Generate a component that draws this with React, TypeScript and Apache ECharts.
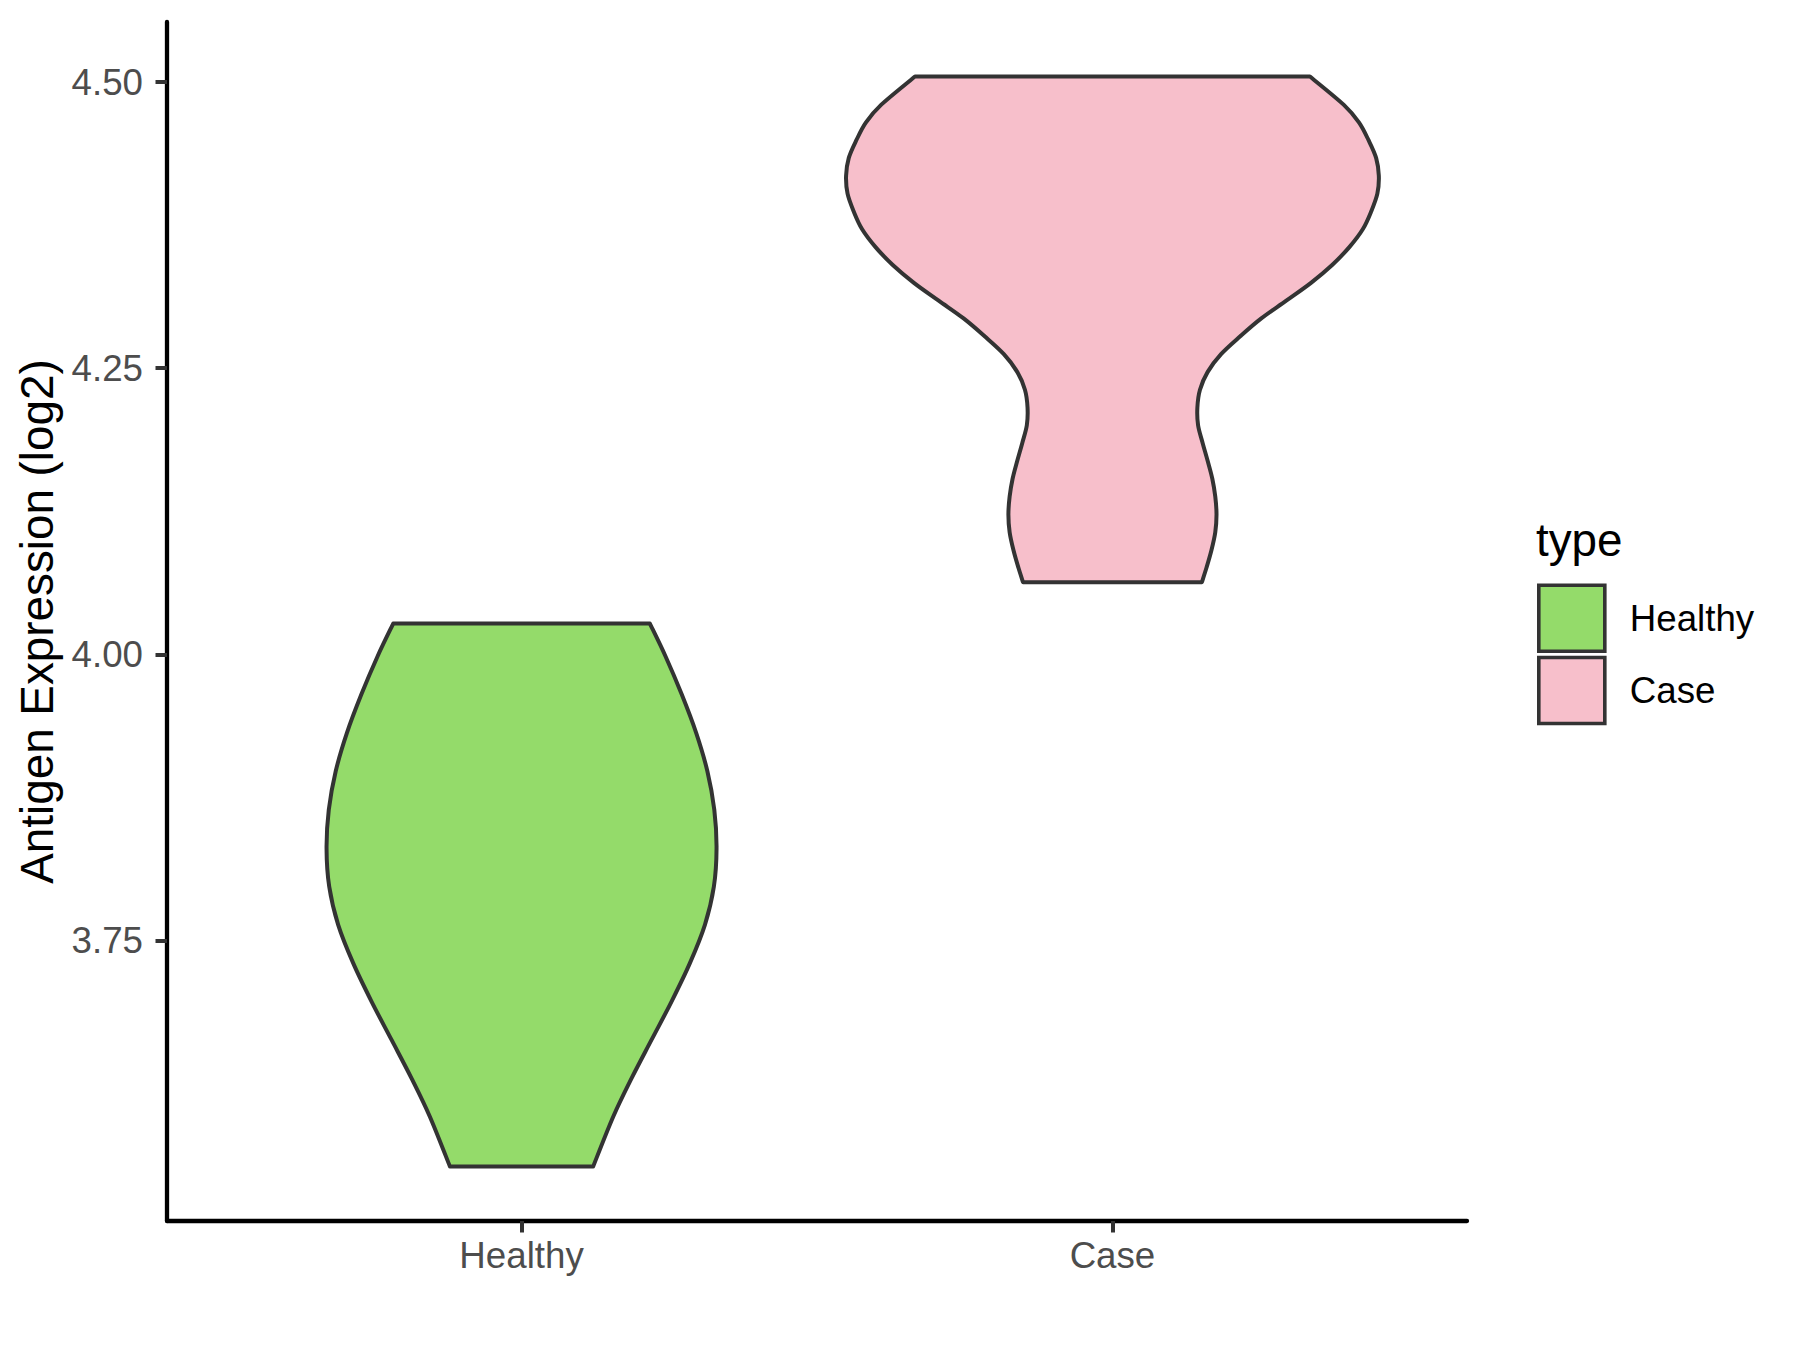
import React, { useEffect, useRef } from "react";
import * as echarts from "echarts";

// ---- Data ----
const categories = ["Healthy", "Case"];
const yTickValues = [3.75, 4.0, 4.25, 4.5];

// Healthy violin: value (log2) and half-width (in category units)
const healthyValues = [
  3.5524, 3.5959, 3.6294, 3.663, 3.6965, 3.7301, 3.7636, 3.7971, 3.8306,
  3.8642, 3.8978, 3.9313, 3.9648, 3.9983, 4.0268,
];
const healthyHalfWidth = [
  0.1212, 0.1551, 0.1861, 0.2199, 0.2538, 0.2849, 0.3103, 0.3255, 0.33,
  0.3262, 0.3145, 0.2955, 0.2712, 0.2436, 0.2172,
];

// Case violin
const caseValues = [
  4.063, 4.0756, 4.0911, 4.1067, 4.1222, 4.1378, 4.1534, 4.1689, 4.1845,
  4.2001, 4.2156, 4.2312, 4.2468, 4.2623, 4.2779, 4.2935, 4.309, 4.3246,
  4.3402, 4.3558, 4.3714, 4.3869, 4.4025, 4.4181, 4.4336, 4.4492, 4.4648,
  4.4803, 4.5049,
];
const caseHalfWidth = [
  0.1513, 0.1591, 0.1676, 0.174, 0.1761, 0.174, 0.169, 0.1612, 0.1527,
  0.1449, 0.1437, 0.1481, 0.1612, 0.1838, 0.2163, 0.2519, 0.2941, 0.336,
  0.3718, 0.4009, 0.4236, 0.4378, 0.4483, 0.4508, 0.4463, 0.4334, 0.4171,
  0.3912, 0.3342,
];

const fillColors = ["#94DB6A", "#F7BFCB"];
const outlineColor = "#333333";
const FONT = "'Liberation Sans', Arial, Helvetica, sans-serif";

// Catmull-Rom -> cubic bezier segments through points
function curveThrough(pts: number[][]): string {
  let d = "";
  for (let i = 0; i < pts.length - 1; i++) {
    const p0 = pts[i - 1] || pts[i];
    const p1 = pts[i];
    const p2 = pts[i + 1];
    const p3 = pts[i + 2] || p2;
    const c1x = p1[0] + (p2[0] - p0[0]) / 6;
    const c1y = p1[1] + (p2[1] - p0[1]) / 6;
    const c2x = p2[0] - (p3[0] - p1[0]) / 6;
    const c2y = p2[1] - (p3[1] - p1[1]) / 6;
    d += ` C${c1x},${c1y} ${c2x},${c2y} ${p2[0]},${p2[1]}`;
  }
  return d;
}

function makeRenderItem(values: number[], widths: number[], color: string) {
  return (params: any, api: any) => {
    const xPos = api.value(0);
    const right = values.map((v, i) => api.coord([xPos + widths[i], v]));
    const left = values.map((v, i) => api.coord([xPos - widths[i], v])).reverse();
    let d = `M${right[0][0]},${right[0][1]}`;
    d += curveThrough(right);
    d += ` L${left[0][0]},${left[0][1]}`;
    d += curveThrough(left);
    d += " Z";
    return {
      type: "path",
      shape: { pathData: d },
      style: {
        fill: color,
        stroke: outlineColor,
        lineWidth: 4,
        lineJoin: "round",
      },
    };
  };
}

export default function App() {
  const ref = useRef<HTMLDivElement>(null);

  useEffect(() => {
    if (!ref.current) return;
    const chart = echarts.init(ref.current, null, { renderer: "svg" });

    const allValues = [...healthyValues, ...caseValues];
    const dMin = Math.min(...allValues);
    const dMax = Math.max(...allValues);
    const pad = (dMax - dMin) * 0.05;

    const option: any = {
      animation: false,
      backgroundColor: "#ffffff",
      grid: { left: 167, right: 333, top: 22, bottom: 129, containLabel: false },
      xAxis: {
        type: "value",
        min: 0.4,
        max: 2.6,
        splitLine: { show: false },
        axisLine: { show: true, onZero: false, lineStyle: { color: "#000000", width: 4.3 } },
        axisTick: {
          show: true,
          customValues: [1, 2],
          length: 11.5,
          lineStyle: { color: outlineColor, width: 4 },
        },
        axisLabel: {
          show: true,
          customValues: [1, 2],
          formatter: (v: number) => categories[Math.round(v) - 1] || "",
          fontSize: 36.7,
          fontFamily: FONT,
          color: "#4D4D4D",
          margin: 16,
        },
      },
      yAxis: {
        type: "value",
        min: dMin - pad,
        max: dMax + pad,
        splitLine: { show: false },
        name: "Antigen Expression (log2)",
        nameLocation: "middle",
        nameGap: 102,
        nameTextStyle: { fontSize: 45.8, fontFamily: FONT, color: "#000000" },
        axisLine: { show: true, onZero: false, lineStyle: { color: "#000000", width: 4.3 } },
        axisTick: {
          show: true,
          customValues: yTickValues,
          length: 11.5,
          lineStyle: { color: outlineColor, width: 4 },
        },
        axisLabel: {
          show: true,
          customValues: yTickValues,
          formatter: (v: number) => v.toFixed(2),
          fontSize: 36.7,
          fontFamily: FONT,
          color: "#4D4D4D",
          margin: 24,
        },
      },
      legend: {
        orient: "vertical",
        left: 1537,
        top: 583.5,
        padding: 0,
        itemWidth: 66,
        itemHeight: 66,
        itemGap: 2.6,
        selectedMode: false,
        data: categories.map((c) => ({ name: c, icon: "rect" })),
        itemStyle: { borderColor: outlineColor, borderWidth: 3.6 },
        textStyle: {
          fontSize: 36.7,
          fontFamily: FONT,
          color: "#000000",
          padding: [0, 0, 0, 20],
        },
      },
      graphic: [
        {
          type: "text",
          left: 1536,
          top: 517,
          style: {
            text: "type",
            fontSize: 45.8,
            fontFamily: FONT,
            fill: "#000000",
          },
        },
      ],
      series: [
        {
          name: categories[0],
          type: "custom",
          coordinateSystem: "cartesian2d",
          clip: false,
          itemStyle: { color: fillColors[0], borderColor: outlineColor, borderWidth: 3.6 },
          data: [[1]],
          renderItem: makeRenderItem(healthyValues, healthyHalfWidth, fillColors[0]),
        },
        {
          name: categories[1],
          type: "custom",
          coordinateSystem: "cartesian2d",
          clip: false,
          itemStyle: { color: fillColors[1], borderColor: outlineColor, borderWidth: 3.6 },
          data: [[2]],
          renderItem: makeRenderItem(caseValues, caseHalfWidth, fillColors[1]),
        },
      ],
    };

    chart.setOption(option);
    return () => chart.dispose();
  }, []);

  return (
    <div
      ref={ref}
      style={{ position: "absolute", left: 0, top: 0, width: 1800, height: 1350, background: "#fff" }}
    />
  );
}
